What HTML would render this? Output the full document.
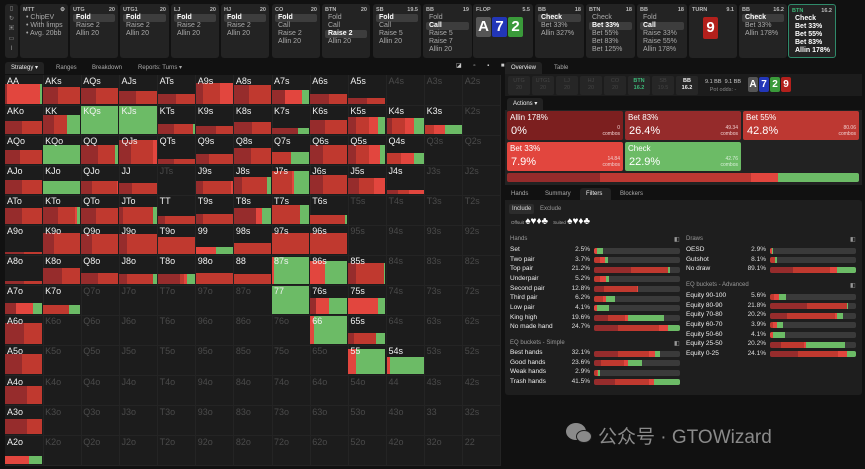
<!DOCTYPE html>
<html><head><meta charset="utf-8">
<style>
*{box-sizing:border-box;margin:0;padding:0}
body{width:865px;height:469px;background:#111;font-family:"Liberation Sans","Noto Sans CJK SC",sans-serif;color:#ddd;position:relative;overflow:hidden}
.abs{position:absolute}
.box{position:absolute;top:4px;height:54px;background:#232323;border-radius:3px;padding:2px 3px;font-size:7px;line-height:8px}
.box .h{font-size:5.5px;font-weight:bold;color:#bbb;display:flex;justify-content:space-between;height:8px;line-height:8px}
.box .i{color:#aaa;padding-left:3px;height:8px}
.box .s{background:#3d3d3d;color:#fff;font-weight:bold;border-radius:2px}
.tab{position:absolute;font-size:6px;color:#aaa;height:12px;line-height:12px;padding:0 6px}
.tab.on{background:#222;color:#eee;border-radius:3px 3px 0 0}
.cell{position:absolute;border-right:1px solid #242424;border-bottom:1px solid #242424;overflow:hidden}
.cell .lb{position:absolute;left:2px;top:1px;font-size:9px;z-index:2}
.bar{position:absolute;bottom:1px;left:0;display:flex;height:0}
.tile{position:absolute;height:29px;border-radius:2px;padding:2px 3px;color:#fff}
.tile .a{font-size:8px}
.tile .p{font-size:11px;position:absolute;left:4px;bottom:3px}
.tile .c{font-size:5px;position:absolute;right:3px;bottom:3px;text-align:right;line-height:6px;color:#f0d0d0}
.ll{position:absolute;font-size:6.5px;color:#eee}
.pc{position:absolute;font-size:6.5px;color:#ddd;text-align:right;width:40px}
.hd{position:absolute;font-size:6px;color:#999}
.lbar{position:absolute;height:6px;background:#3a3a3a;border-radius:2px;display:flex;overflow:hidden}
.pl{position:absolute;top:76px;width:22px;height:19px;background:#262626;border-radius:2px;font-size:5.5px;text-align:center;line-height:7px;padding-top:2px;color:#444}
.card{position:absolute;border-radius:2px;color:#fff;font-weight:bold;text-align:center}
</style></head><body>
<div class="abs" style="left:5px;top:4px;width:13px;height:54px;background:#232323;border-radius:3px;font-size:6px;color:#999;text-align:center;line-height:10px">▯<br>↻<br>▣<br>▭<br>I</div>
<div class="box" style="left:20px;width:48px"><div class="h"><span>MTT</span><span>⚙</span></div><div class="i">• ChipEV</div><div class="i">• With limps</div><div class="i">• Avg. 20bb</div></div>
<div id="boxes"></div>
<div class="box" style="left:473px;width:60px"><div class="h"><span>FLOP</span><span>5.5</span></div>
<div class="card" style="left:3px;top:13px;width:15px;height:20px;background:#555;font-size:15px;line-height:20px">A</div>
<div class="card" style="left:19px;top:13px;width:15px;height:20px;background:#2236b8;font-size:15px;line-height:20px">7</div>
<div class="card" style="left:35px;top:13px;width:15px;height:20px;background:#3a9a3a;font-size:15px;line-height:20px">2</div></div>
<div class="box" style="left:689px;width:48px"><div class="h"><span>TURN</span><span>9.1</span></div>
<div class="card" style="left:14px;top:13px;width:15px;height:22px;background:#b3201c;font-size:15px;line-height:22px">9</div></div>

<div class="tab on" style="left:5px;top:62px">Strategy ▾</div>
<div class="tab" style="left:50px;top:62px">Ranges</div>
<div class="tab" style="left:86px;top:62px">Breakdown</div>
<div class="tab" style="left:132px;top:62px">Reports: Turns ▾</div>
<div class="abs" style="left:456px;top:62px;font-size:6px;color:#ccc;letter-spacing:5px">◪ ▫ ▪ ■</div>
<div class="abs" style="left:5px;top:75px;width:496px;height:391px;background:#1c1c1c" id="matrix"></div>

<div class="tab on" style="left:505px;top:62px">Overview</div>
<div class="tab" style="left:548px;top:62px">Table</div>
<div class="abs" style="left:505px;top:74px;width:357px;height:22px;background:#1c1c1c"></div>
<div class="pl" style="left:508px">UTG<br>20</div>
<div class="pl" style="left:532px">UTG1<br>20</div>
<div class="pl" style="left:556px">LJ<br>20</div>
<div class="pl" style="left:580px">HJ<br>20</div>
<div class="pl" style="left:604px">CO<br>20</div>
<div class="pl" style="left:628px;color:#3cb878;font-weight:bold">BTN<br>16.2</div>
<div class="pl" style="left:652px">SB<br>19.5</div>
<div class="pl" style="left:676px;color:#eee;font-weight:bold">BB<br>16.2</div>
<div class="abs" style="left:705px;top:78px;font-size:5.5px;color:#ccc;line-height:8px;text-align:center">9.1 BB &nbsp;9.1 BB<br><span style="color:#888">Pot odds: -</span></div>
<div class="card" style="left:748px;top:77px;width:10px;height:15px;background:#555;font-size:10px;line-height:15px">A</div>
<div class="card" style="left:759px;top:77px;width:10px;height:15px;background:#2236b8;font-size:10px;line-height:15px">7</div>
<div class="card" style="left:770px;top:77px;width:10px;height:15px;background:#3a9a3a;font-size:10px;line-height:15px">2</div>
<div class="card" style="left:781px;top:77px;width:10px;height:15px;background:#b3201c;font-size:10px;line-height:15px">9</div>

<div class="tab on" style="left:507px;top:98px">Actions ▾</div>
<div class="abs" style="left:505px;top:110px;width:357px;height:75px;background:#222"></div>
<div class="tile" style="left:507px;top:111px;width:116px;background:#7c1f1f"><div class="a">Allin 178%</div><div class="p">0%</div><div class="c">0<br>combos</div></div>
<div class="tile" style="left:625px;top:111px;width:116px;background:#952b2b"><div class="a">Bet 83%</div><div class="p">26.4%</div><div class="c">49.34<br>combos</div></div>
<div class="tile" style="left:743px;top:111px;width:116px;background:#bd3832"><div class="a">Bet 55%</div><div class="p">42.8%</div><div class="c">80.06<br>combos</div></div>
<div class="tile" style="left:507px;top:142px;width:116px;background:#e2463e"><div class="a">Bet 33%</div><div class="p">7.9%</div><div class="c">14.84<br>combos</div></div>
<div class="tile" style="left:625px;top:142px;width:116px;background:#6cbb66"><div class="a">Check</div><div class="p">22.9%</div><div class="c" style="color:#d8f0d8">42.76<br>combos</div></div>
<div class="abs" id="sumbar" style="left:507px;top:173px;width:352px;height:9px;display:flex;border-radius:2px;overflow:hidden"></div>

<div class="tab" style="left:505px;top:188px">Hands</div>
<div class="tab" style="left:539px;top:188px">Summary</div>
<div class="tab on" style="left:580px;top:188px;width:31px">Filters</div>
<div class="tab" style="left:614px;top:188px">Blockers</div>
<div class="abs" style="left:505px;top:200px;width:357px;height:195px;background:#1e1e1e;border-radius:0 3px 3px 3px"></div>
<div class="abs" style="left:509px;top:204px;padding:2px 3px;background:#2c2c2c;border-radius:2px;font-size:6px;color:#ddd">Include</div>
<div class="abs" style="left:540px;top:206px;font-size:6px;color:#999">Exclude</div>
<div class="abs" style="left:511px;top:216px;font-size:4.5px;color:#aaa">Offsuit <span style="font-size:10px;color:#fff">♠♥♦♣</span> &nbsp; &nbsp;Suited <span style="font-size:10px;color:#fff">♠♥♦♣</span></div>
<div id="lists"></div>

<div class="abs" style="left:566px;top:423px;width:20px;height:17px;border-radius:50%;background:#8a8a8a"></div>
<div class="abs" style="left:576px;top:430px;width:16px;height:13px;border-radius:50%;background:#8a8a8a;border:1px solid #1c1c1c"></div>
<div class="abs" style="left:598px;top:422px;font-size:19px;color:#8a8a8a;white-space:nowrap">公众号 · GTOWizard</div>

<script>
const boxPos=['UTG','UTG1','LJ','HJ','CO','BTN','SB','BB','BB','BTN','BB','BB','BTN'];
const boxStack=['20','20','20','20','20','20','19.5','19','18','18','18','16.2','16.2'];
const boxItems=[['Fold','Raise 2','Allin 20'],['Fold','Raise 2','Allin 20'],['Fold','Raise 2','Allin 20'],['Fold','Raise 2','Allin 20'],['Fold','Call','Raise 2','Allin 20'],['Fold','Call','Raise 2','Allin 20'],['Fold','Call','Raise 5','Allin 20'],['Fold','Call','Raise 5','Raise 7','Allin 20'],['Check','Bet 33%','Allin 327%'],['Check','Bet 33%','Bet 55%','Bet 83%','Bet 125%'],['Fold','Call','Raise 33%','Raise 55%','Allin 178%'],['Check','Bet 33%','Allin 178%'],['Check','Bet 33%','Bet 55%','Bet 83%','Allin 178%']];
const boxSel=[0,0,0,0,0,2,0,1,0,1,1,0,-1];
const boxLeft=[70,120,171,221,272,322,373,423,535,586,637,739,788];
const boxW=[48,49,48,48,48,48,48,49,49,49,50,48,48];
const bc=document.getElementById('boxes');
boxPos.forEach((p,k)=>{
 const d=document.createElement('div');
 
 
 d.className='box';d.style.left=boxLeft[k]+'px';d.style.width=boxW[k]+'px';
 if(k==12){d.style.border='1px solid #2f8a6a';}
 let h='<div class="h"><span'+(k==12?' style="color:#3cb878"':'')+'>'+p+'</span><span>'+boxStack[k]+'</span></div>';
 boxItems[k].forEach((it,j)=>{h+='<div class="i'+(j==boxSel[k]?' s':'')+'"'+(k==12?' style="color:#fff;font-weight:bold"':'')+'>'+it+'</div>';});
 d.innerHTML=h;bc.appendChild(d);
});

const actColors=['#7c1f1f','#952b2b','#bd3832','#e2463e','#6cbb66'];
const sumVals=[0,26.4,42.8,7.9,22.9];
const sb=document.getElementById('sumbar');
sumVals.forEach((v,i)=>{const s=document.createElement('div');
 
 
 s.style.width=v+'%';s.style.background=actColors[i];sb.appendChild(s);});

const ranks=['A','K','Q','J','T','9','8','7','6','5','4','3','2'];
const weights={AA:.7,AKs:.6,AQs:.55,AJs:.45,ATs:.35,A9s:.75,A8s:.65,A7s:.5,A6s:.33,A5s:.2,
AKo:.45,KK:.65,KQs:1,KJs:1,KTs:.33,K9s:.28,K8s:.4,K7s:.2,K6s:.5,K5s:.6,K4s:.55,K3s:.3,
AQo:.5,KQo:.65,QQ:.65,QJs:.85,QTs:.18,Q9s:.35,Q8s:.55,Q7s:.4,Q6s:.65,Q5s:.68,Q4s:.38,
AJo:.5,KJo:.45,QJo:.45,JJ:.38,J9s:.45,J8s:.6,J7s:.8,J6s:.65,J5s:.55,J4s:.12,
ATo:.55,KTo:.6,QTo:.55,JTo:.6,TT:.28,T9s:.35,T8s:.55,T7s:.68,T6s:.3,
A9o:.08,K9o:.75,Q9o:.7,J9o:.7,T9o:.6,'99':.25,'98s':.4,'97s':.75,'96s':.75,
A8o:.1,K8o:.55,Q8o:.4,J8o:.35,T8o:.35,'98o':.4,'88':.35,'87s':.95,'86s':.8,'85s':.75,
A7o:.4,K7o:.3,'77':1,'76s':.55,'75s':.55,
A6o:.75,'66':1,'65s':.4,A5o:.7,'55':.9,'54s':.6,A4o:.65,A3o:.55,A2o:.3};
const mixes={AA:[.05,0,.9,.05],AKs:[.4,.6,0,0],AQs:[.4,.6,0,0],AJs:[.45,.55,0,0],ATs:[.5,.5,0,0],A9s:[.2,.45,.35,0],A8s:[.4,.6,0,0],A7s:[.35,0,.45,.2],A6s:[.5,.5,0,0],A5s:[.5,.5,0,0],
AKo:[.45,.55,0,0],KK:[.3,.35,0,.35],KQs:[0,0,0,1],KJs:[0,0,0,1],KTs:[.45,.5,0,.05],K9s:[.55,.45,0,0],K8s:[.5,.5,0,0],K7s:[.7,0,0,.3],K6s:[.4,.6,0,0],K5s:[.2,.35,.25,.2],K4s:[.15,.35,.25,.25],K3s:[0,.25,.3,.45],
AQo:[.4,.6,0,0],KQo:[0,0,0,1],QQ:[.45,.45,0,.1],QJs:[.3,.6,.1,0],QTs:[.45,.55,0,0],Q9s:[.35,.65,0,0],Q8s:[.45,.55,0,0],Q7s:[0,.5,0,.5],Q6s:[.35,.65,0,0],Q5s:[.2,.35,.3,.15],Q4s:[0,.4,.35,.25],
AJo:[.45,.55,0,0],KJo:[0,0,0,1],QJo:[.3,.65,.05,0],JJ:[.35,.65,0,0],J9s:[.2,.75,.05,0],J8s:[.22,.68,0,.1],J7s:[0,.55,.05,.4],J6s:[.35,.65,0,0],J5s:[.3,.4,.3,0],J4s:[.3,.3,.4,0],
ATo:[.45,.55,0,0],KTo:[.4,.45,.05,.1],QTo:[.4,.6,0,0],JTo:[.1,.8,0,.1],TT:[.2,.8,0,0],T9s:[.2,.8,0,0],T8s:[.6,0,.15,.25],T7s:[0,.75,0,.25],T6s:[0,.95,0,.05],
A9o:[.5,.5,0,0],K9o:[.3,.7,0,0],Q9o:[.3,.7,0,0],J9o:[.2,.8,0,0],T9o:[0,1,0,0],'99':[0,0,.55,.45],'98s':[0,1,0,0],'97s':[0,1,0,0],'96s':[0,1,0,0],
A8o:[.5,.5,0,0],K8o:[.5,.5,0,0],Q8o:[.45,.55,0,0],J8o:[.2,.7,0,.1],T8o:[.6,.1,.1,.2],'98o':[0,1,0,0],'88':[0,1,0,0],'87s':[0,0,.05,.95],'86s':[0,0,.4,.6],'85s':[.2,.75,0,.05],
A7o:[.3,0,.45,.25],K7o:[0,.7,0,.3],'77':[0,0,0,1],'76s':[.15,0,.35,.5],'75s':[0,0,.8,.2],
A6o:[.5,.5,0,0],'66':[0,0,.1,.9],'65s':[.15,.6,0,.25],A5o:[.45,.55,0,0],'55':[0,0,.2,.8],'54s':[0,0,.1,.9],A4o:[.6,.4,0,0],A3o:[.6,.4,0,0],A2o:[0,0,.65,.35]};
const mixColors=['#962c2c','#c0392f','#e2463e','#6cbb66'];
const CW=38.15,CH=30.05;
const mx=document.getElementById('matrix');
function cellX(c){return c*CW;}
function cellY(r){return r*CH;}
for(let r=0;r<13;r++)for(let c=0;c<13;c++){
 const name=r==c?ranks[r]+ranks[c]:(c>r?ranks[r]+ranks[c]+'s':ranks[c]+ranks[r]+'o');
 const w=weights[name]||0;
 const d=document.createElement('div');
 
 
 d.className='cell';
 d.style.left=cellX(c)+'px';d.style.top=cellY(r)+'px';d.style.width=(CW+.5)+'px';d.style.height=(CH+.5)+'px';
 const lb=document.createElement('div');lb.className='lb';lb.textContent=name;
 lb.style.color=w>0?'#f2f2f2':'#4a4a4a';
 d.appendChild(lb);
 if(w>0){
  const b=document.createElement('div');b.className='bar';
  
  
  b.style.width=(CW-1)+'px';b.style.height=(w*(CH-2))+'px';
  (mixes[name]||[0,1,0,0]).forEach((f,i)=>{if(f>0){const s=document.createElement('div');s.style.width=(f*100)+'%';s.style.background=mixColors[i];b.appendChild(s);}});
  d.appendChild(b);
 }
 mx.appendChild(d);
}

const handLabels=['Set','Two pair','Top pair','Underpair','Second pair','Third pair','Low pair','King high','No made hand'];
const handPcts=['2.5%','3.7%','21.2%','5.2%','12.8%','6.2%','4.1%','19.6%','24.7%'];
const handMix=[[0,0,.04,.06],[0,.07,.06,.03],[.43,.43,0,.02],[0,.07,.07,.03],[.12,.38,.01,0],[0,.1,.04,.1],[0,0,.03,.14],[.16,.2,.04,.41],[.28,.48,.1,.14]];
const simpleLabels=['Best hands','Good hands','Weak hands','Trash hands'];
const simplePcts=['32.1%','23.6%','2.9%','41.5%'];
const simpleMix=[[.28,.36,.07,.06],[.08,.27,.05,.16],[0,.03,.02,.02],[.24,.4,.06,.3]];
const drawLabels=['OESD','Gutshot','No draw'];
const drawPcts=['2.9%','8.1%','89.1%'];
const drawMix=[[0,0,.02,.01],[0,.06,0,.02],[.27,.43,.08,.22]];
const advLabels=['Equity 90-100','Equity 80-90','Equity 70-80','Equity 60-70','Equity 50-60','Equity 25-50','Equity 0-25'];
const advPcts=['5.6%','21.8%','20.2%','3.9%','4.1%','20.2%','24.1%'];
const advMix=[[0,.05,.05,.09],[.43,.47,0,.01],[.2,.56,.02,.07],[0,.04,.04,.07],[0,0,.03,.14],[.13,.26,.03,.45],[.33,.46,.1,.11]];
const L=document.getElementById('lists');
function header(t,x,y){const h=document.createElement('div');h.className='hd';
 
 
 h.style.left=x+'px';h.style.top=y+'px';h.textContent=t;L.appendChild(h);
 const ic=document.createElement('div');ic.className='hd';
 
 
 ic.style.left=(x+164)+'px';ic.style.top=y+'px';ic.textContent='◧';L.appendChild(ic);}
function list(labels,pcts,mix,x,y0){
 labels.forEach((t,i)=>{const y=y0+i*9.65;
  const l=document.createElement('div');l.className='ll';
  
  
  l.style.left=x+'px';l.style.top=y+'px';l.textContent=t;L.appendChild(l);
  const p=document.createElement('div');p.className='pc';
  
  
  p.style.left=(x+40)+'px';p.style.top=y+'px';p.textContent=pcts[i];L.appendChild(p);
  const b=document.createElement('div');b.className='lbar';
  
  
  b.style.left=(x+84)+'px';b.style.top=(y+1.5)+'px';b.style.width='86px';
  mix[i].forEach((f,k)=>{const s=document.createElement('div');s.style.width=(f*100)+'%';s.style.background=mixColors[k];b.appendChild(s);});
  L.appendChild(b);});
}
header('Hands',510,236);list(handLabels,handPcts,handMix,510,246);
header('EQ buckets - Simple',510,340);list(simpleLabels,simplePcts,simpleMix,510,349);
header('Draws',686,236);list(drawLabels,drawPcts,drawMix,686,246);
header('EQ buckets - Advanced',686,282);list(advLabels,advPcts,advMix,686,292);
</script>
</body></html>
